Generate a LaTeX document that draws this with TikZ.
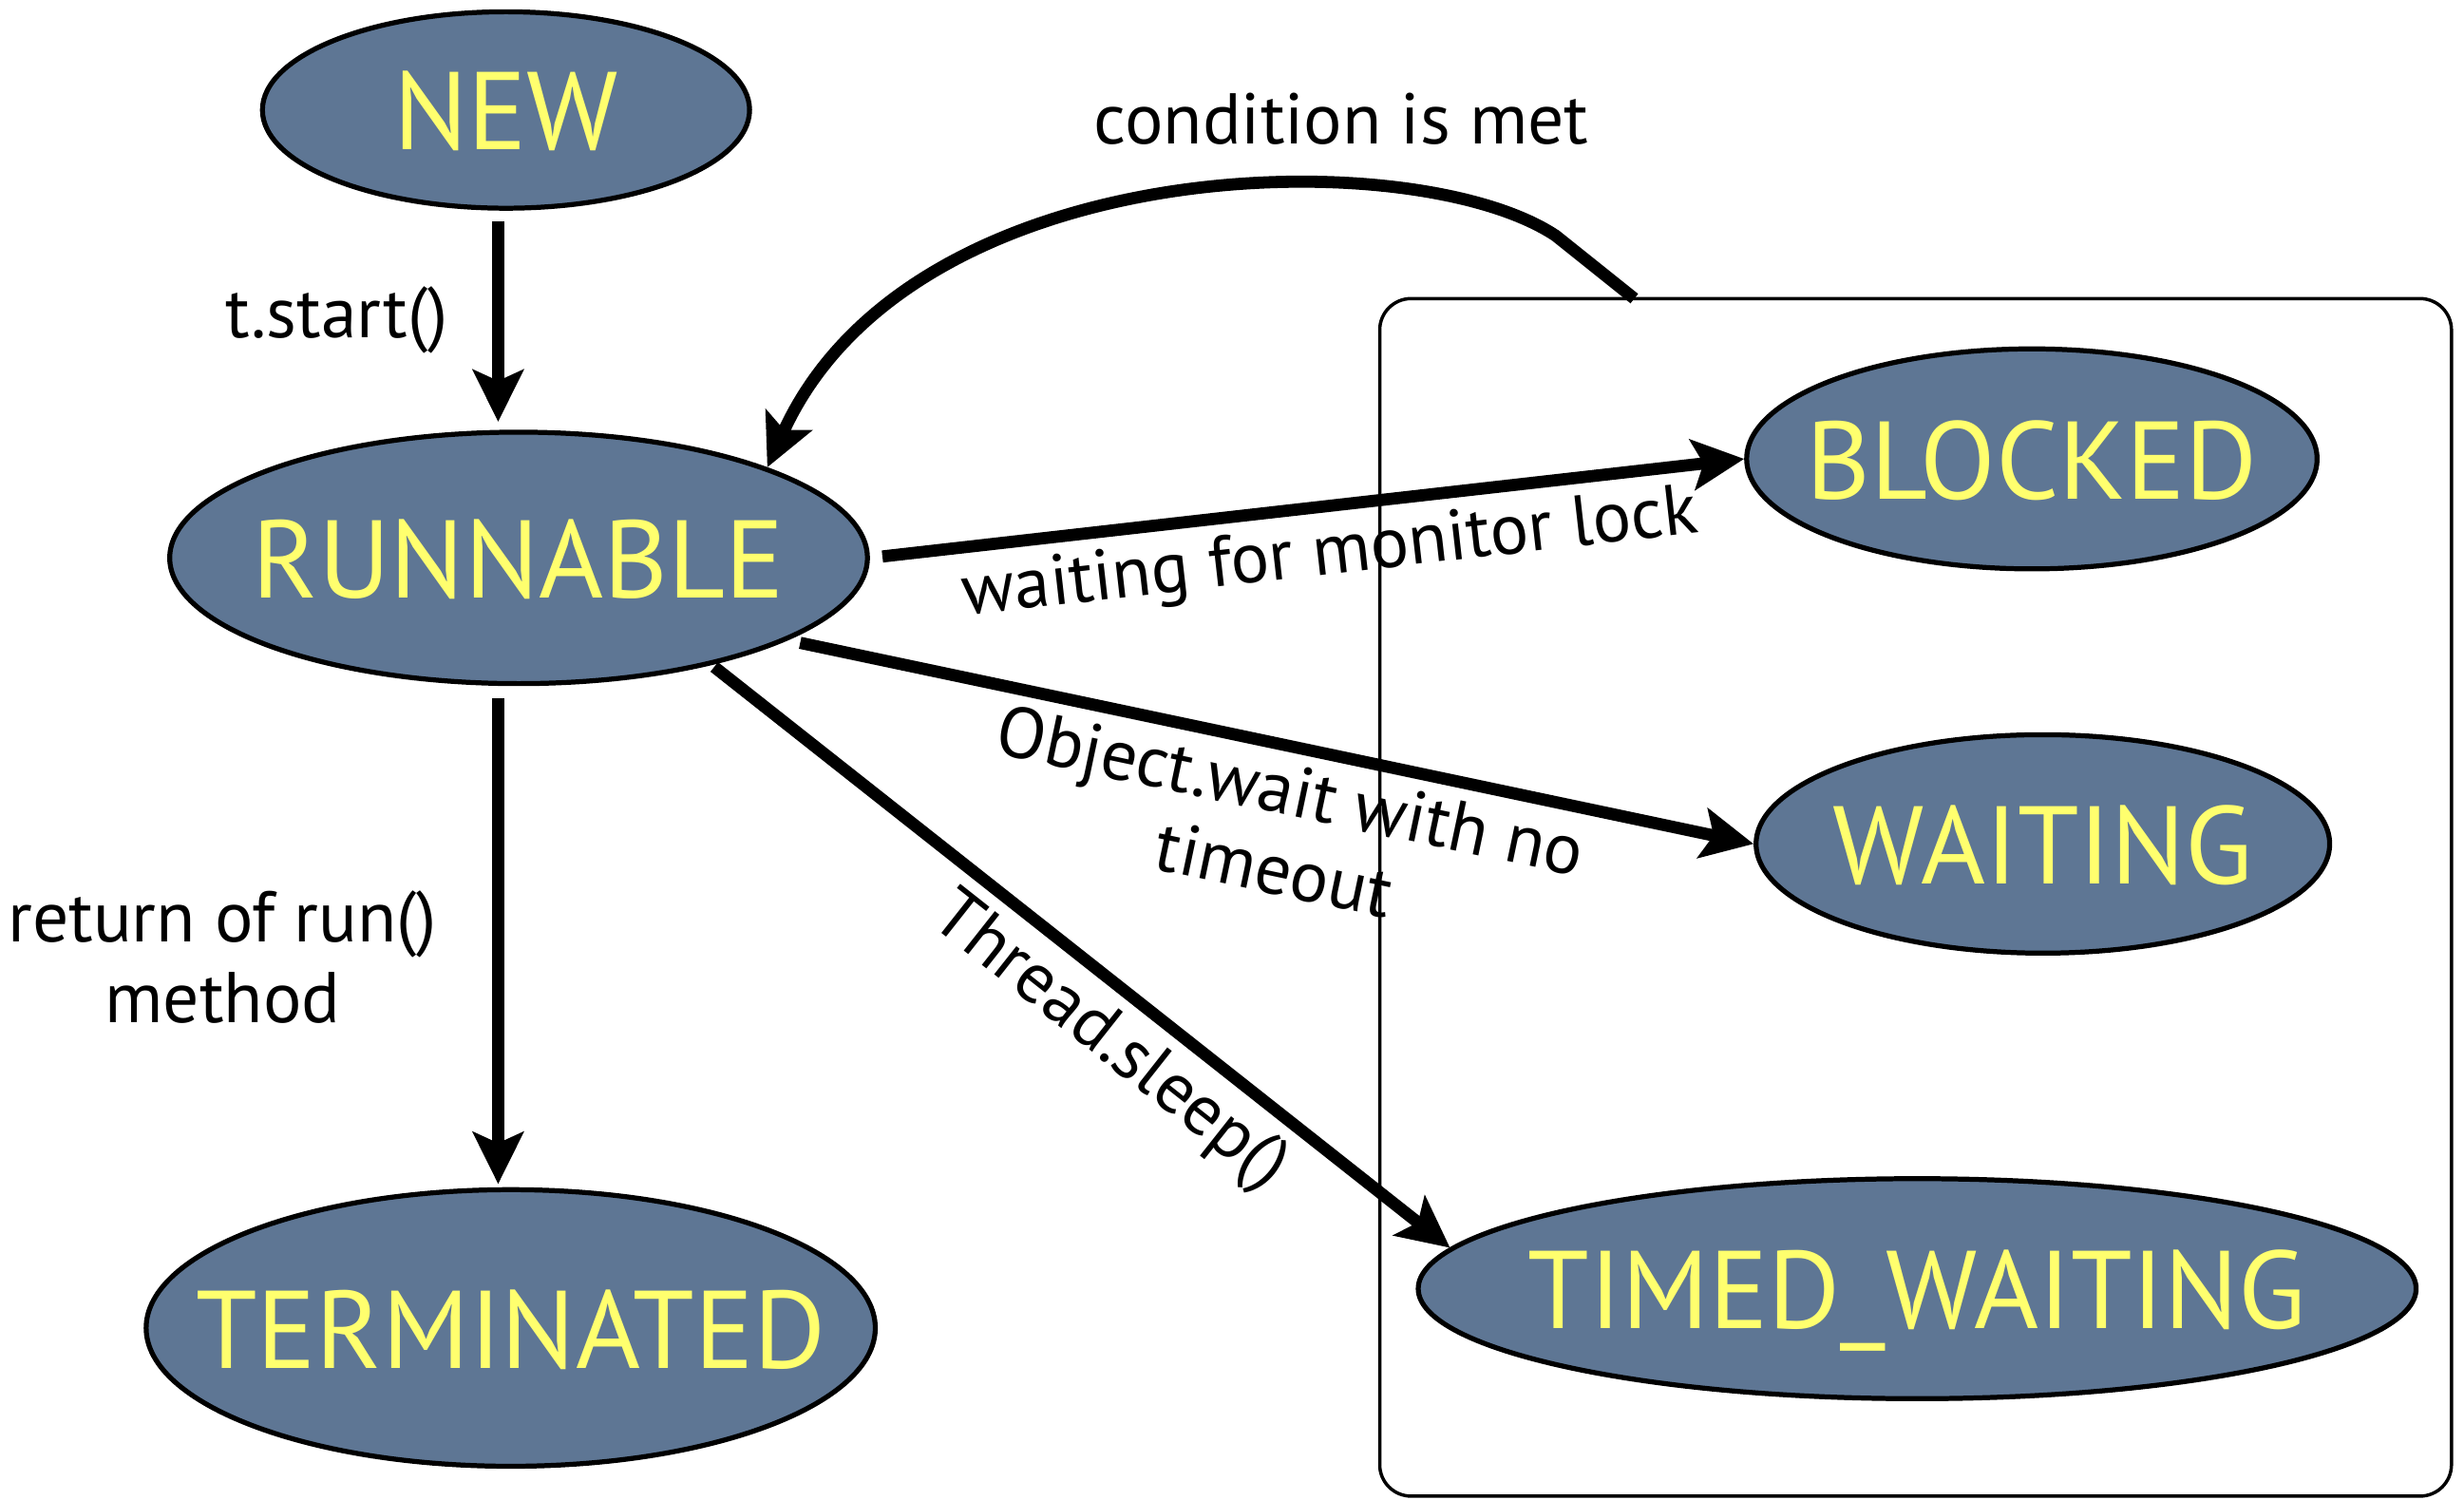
\documentclass[tikz,border=0pt]{standalone}
\usepackage{fontspec}
\setmainfont{PT Sans}
\usetikzlibrary{arrows.meta, shapes.geometric}

\definecolor{stateblue}{HTML}{5E7694}
\definecolor{stateyellow}{HTML}{FFFF6E}

\begin{document}
\begin{tikzpicture}[
    >={Stealth[length=3.3mm, width=3.2mm, inset=0.7mm]},
    state/.style={
        ellipse,
        draw=black,
        line width=0.9pt,
        fill=stateblue,
        inner sep=0pt,
        text height=14.5pt,
        text depth=0pt,
        text=stateyellow,
        font=\fontsize{20}{22}\selectfont
    },
    grouping/.style={
        rectangle,
        rounded corners=2mm,
        draw=black,
        line width=0.6pt,
        minimum width=6.82cm,
        minimum height=7.62cm
    },
    trans/.style={
        ->,
        line width=2.2pt,
        black
    },
    lbl/.style={
        font=\fontsize{13}{14.5}\selectfont,
        align=center,
        inner sep=2pt
    }
]

\useasboundingbox (0,0) rectangle (15.68,-9.54);

% =============== GRUPO DE ESPERA (direita) ===============

\node[grouping] (grp) at (12.19,-5.71) {};
\coordinate (cond) at (10.40,-1.90);

% =============== ESTADOS ===============

\node[state, minimum width=3.10cm, minimum height=1.25cm] (new)        at (3.22,-0.70)  {\makebox[0pt]{NEW}};
\node[state, minimum width=4.44cm, minimum height=1.60cm] (runnable)   at (3.30,-3.55)  {\makebox[0pt]{RUNNABLE}};
\node[state, minimum width=4.64cm, minimum height=1.76cm] (terminated) at (3.25,-8.45)  {\makebox[0pt]{TERMINATED}};
\node[state, minimum width=3.63cm, minimum height=1.40cm] (blocked)    at (12.93,-2.92) {\makebox[0pt]{BLOCKED}};
\node[state, minimum width=3.65cm, minimum height=1.39cm] (waiting)    at (13.00,-5.37) {\makebox[0pt]{WAITING}};
\node[state, minimum width=6.35cm, minimum height=1.40cm] (timed)      at (12.20,-8.20) {\makebox[0pt]{TIMED\_WAITING}};

% =============== TRANSIÇÕES ===============

\draw[trans, shorten <=0.7mm, shorten >=0.5mm] ([xshift=-0.5mm]new.south) -- ([xshift=-0.5mm]new.south |- runnable.north)
    node[lbl, midway, left=2.1mm] {t.start()};
\draw[trans, shorten <=0.8mm, shorten >=0.2mm] ([xshift=-1.3mm]runnable.south) -- ([xshift=-1.3mm]runnable.south |- terminated.north)
    node[lbl, midway, left=2.8mm, yshift=-1.3mm] {return of run()\\method};

\draw[trans, shorten <=0.8mm] (runnable.east) -- (blocked.west)
    node[lbl, pos=0.52, sloped, below] {waiting for monitor lock};
\draw[trans, shorten <=0.8mm] (runnable.-17) -- (waiting.west)
    node[lbl, pos=0.53, sloped, below] {Object.wait with no\\timeout};
\draw[trans, shorten <=0.2mm] (runnable.-29) -- (timed.175)
    node[lbl, pos=0.58, sloped, below] {Thread.sleep()};

% volta para RUNNABLE
\draw[trans] (cond) -- (9.90,-1.50) .. controls (9.00,-0.90) and (5.80,-0.95) .. (runnable.20)
    node[lbl, pos=0.31, above=1.4mm] {condition is met};

\end{tikzpicture}
\end{document}
